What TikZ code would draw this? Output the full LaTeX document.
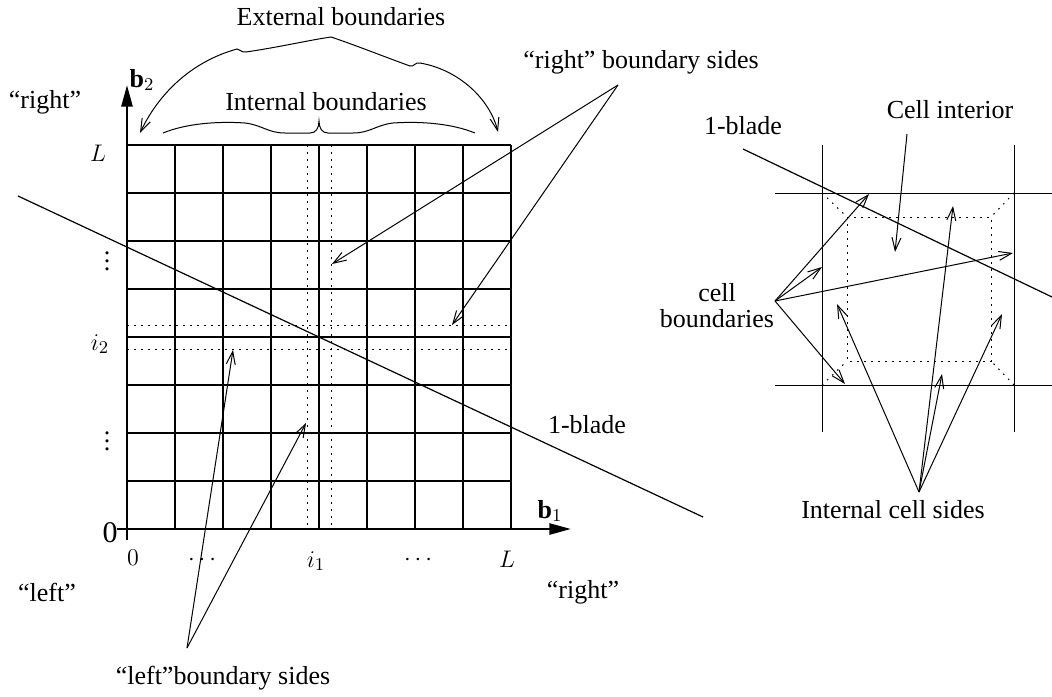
\documentclass[tikz,border=0pt]{standalone}
\usepackage{fontspec}
\setmainfont{Liberation Serif}
\usetikzlibrary{arrows.meta}
\begin{document}
\begin{tikzpicture}[x=0.5pt,y=-0.5pt,
  lbl/.style={inner sep=0pt, font=\fontsize{13}{13}\selectfont},
  mlbl/.style={inner sep=0pt, font=\fontsize{13}{15}\selectfont},
  gridline/.style={line width=0.65pt},
  thinline/.style={line width=0.5pt},
  axisline/.style={line width=1.3pt, -{Triangle[length=10.8pt,width=5.5pt]}},
  ptr/.style={line width=0.5pt, -{Straight Barb[length=6.5pt,width=4.5pt]}},
  ptrboth/.style={line width=0.5pt, {Straight Barb[length=6.5pt,width=4.5pt]}-{Straight Barb[length=6.5pt,width=4.5pt]}},
  dotline/.style={line width=0.5pt, dash pattern=on 0.8pt off 2.7pt},
  blade/.style={line width=0.6pt}]
\useasboundingbox (0,0) rectangle (1052,696);

% ---------- left diagram: grid ----------
\foreach \i in {0,...,8} {
  \draw[gridline] (127+48*\i,145) -- (127+48*\i,529);
  \draw[gridline] (127,145+48*\i) -- (511,145+48*\i);
}
\draw[dotline] (307,145) -- (307,529);
\draw[dotline] (331,145) -- (331,529);
\draw[dotline] (127,325) -- (511,325);
\draw[dotline] (127,349) -- (511,349);

% axes
\coordinate (ybot) at (127,540);
\coordinate (ytop) at (127,85);
\draw[axisline] (ybot) -- (ytop);
\coordinate (xleft) at (117,529);
\coordinate (xright) at (571,529);
\draw[axisline] (xleft) -- (xright);

% 1-blade line
\coordinate (bla) at (18,196);
\coordinate (blb) at (703,517);
\draw[blade] (bla) -- (blb);

% axis labels
\node[mlbl] (b2) at (142,80) {$\mathbf{b}_2$};
\node[mlbl] (b1) at (550,511) {$\mathbf{b}_1$};
\node[mlbl] (yL) at (98,153) {$L$};
\node[mlbl] (yd1) at (107,255) {$\vdots$};
\node[mlbl] (yi2) at (100,344) {$i_2$};
\node[mlbl] (yd2) at (107,435) {$\vdots$};
\node[inner sep=0pt, font=\fontsize{15}{15}\selectfont] (y0) at (110,533) {0};
\node[mlbl] (x0) at (133,558) {$0$};
\node[mlbl] (xd1) at (202,560) {$\cdots$};
\node[mlbl] (xi1) at (316,561) {$i_1$};
\node[mlbl] (xd2) at (418,560) {$\cdots$};
\node[mlbl] (xL) at (507,559) {$L$};

% text labels
\node[lbl] (ext) at (341,17) {External boundaries};
\node[lbl] (int) at (326,102) {Internal boundaries};
\node[lbl] (rtop) at (45,102) {“right”};
\node[lbl] (lbot) at (47,592) {“left”};
\node[lbl] (rbot) at (583,592) {“right”};
\node[lbl] (blade1) at (587,425) {1-blade};
\node[lbl] (rbs) at (641,62) {“right” boundary sides};
\node[lbl] (lbs) at (223,678) {“left”boundary sides};

% external boundaries brace-arrows
\coordinate (extL) at (140,133);
\coordinate (extR) at (498,132);
\draw[ptrboth] (extL) .. controls (158,95) and (190,62) .. (237,49)
  .. controls (241,49) and (241,53) .. (246,52)
  .. controls (280,47) and (310,40) .. (331,37)
  .. controls (355,45) and (385,57) .. (410,66)
  .. controls (414,67) and (415,62) .. (420,63)
  .. controls (460,70) and (490,100) .. (extR);

% internal boundaries brace
\coordinate (intL) at (163,133);
\coordinate (intR) at (475,133);
\draw[thinline] (intL) .. controls (185,124) and (215,121) .. (245,123)
  .. controls (262,125) and (268,133) .. (285,133) -- (310,133)
  .. controls (316,133) and (319,128) .. (319,121)
  .. controls (319,128) and (322,133) .. (328,133) -- (353,133)
  .. controls (370,133) and (376,125) .. (393,123)
  .. controls (423,121) and (453,124) .. (intR);

% "right" boundary sides arrows
\coordinate (rbsO) at (618,85);
\coordinate (rbsA) at (332,264);
\coordinate (rbsB) at (452,325);
\draw[ptr] (rbsO) -- (rbsA);
\draw[ptr] (rbsO) -- (rbsB);

% "left" boundary sides arrows
\coordinate (lbsO) at (187,648);
\coordinate (lbsA) at (233,350);
\coordinate (lbsB) at (306,423);
\draw[ptr] (lbsO) -- (lbsA);
\draw[ptr] (lbsO) -- (lbsB);

% ---------- right diagram ----------
\draw[thinline] (822,145) -- (822,432);
\draw[thinline] (1014,145) -- (1014,432);
\draw[thinline] (775,193) -- (1052,193);
\draw[thinline] (775,385) -- (1052,385);
\draw[dotline] (847,217) rectangle (991,361);
\draw[dotline] (822,193) -- (847,217);
\draw[dotline] (1014,193) -- (991,217);
\draw[dotline] (822,385) -- (847,361);
\draw[dotline] (1014,385) -- (991,361);

\coordinate (rbla) at (743,149);
\coordinate (rblb) at (1052,297);
\draw[blade] (rbla) -- (rblb);

\node[lbl] (blade2) at (743,126) {1-blade};
\node[lbl] (cint) at (950,110) {Cell interior};
\node[lbl, align=center] (cbnd) at (717,306) {cell\\boundaries};
\node[lbl] (ics) at (893,510) {Internal cell sides};

\coordinate (cintO) at (907,134);
\coordinate (cintT) at (895,252);
\draw[ptr] (cintO) -- (cintT);

\coordinate (cbO) at (775,301);
\coordinate (cbA) at (869,194);
\coordinate (cbB) at (822,267);
\coordinate (cbC) at (1013,253);
\coordinate (cbD) at (845,384);
\foreach \t in {cbA,cbB,cbC,cbD} \draw[ptr] (cbO) -- (\t);

\coordinate (icsO) at (919,492);
\coordinate (icsA) at (837,304);
\coordinate (icsB) at (953,206);
\coordinate (icsC) at (942,374);
\coordinate (icsD) at (1002,314);
\foreach \t in {icsA,icsB,icsC,icsD} \draw[ptr] (icsO) -- (\t);
\end{tikzpicture}
\end{document}
